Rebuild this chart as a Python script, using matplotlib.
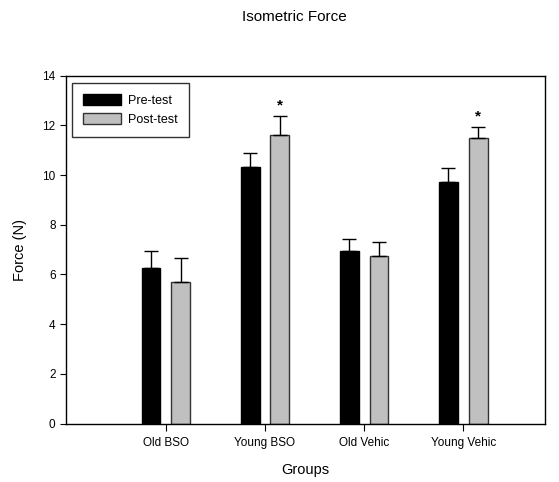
import numpy as np
import matplotlib.pyplot as plt

plt.rcParams['font.family'] = ['Liberation Sans', 'DejaVu Sans']

# values
groups = ['Old BSO', 'Young BSO', 'Old Vehic', 'Young Vehic']
pre_mean = [6.27, 10.31, 6.93, 9.71]
pre_err = [0.69, 0.59, 0.48, 0.56]
post_mean = [5.68, 11.60, 6.76, 11.49]
post_err = [0.97, 0.77, 0.55, 0.43]
significant = [False, True, False, True]

fig = plt.figure(figsize=(5.59, 4.82), dpi=100)
ax = fig.add_axes([66 / 559, 1 - 423.5 / 482, (545 - 66) / 559, (423.5 - 75.7) / 482])

x = np.arange(len(groups))
w = 0.19
off = 0.15
err_kw = dict(ecolor='black', capsize=5, elinewidth=1, capthick=1)

ax.bar(x - off, pre_mean, w, color='black', edgecolor='black', linewidth=1,
       label='Pre-test')
ax.errorbar(x - off, pre_mean, yerr=[np.zeros(4), pre_err], fmt='none', **err_kw)
ax.bar(x + off, post_mean, w, color='#c0c0c0', edgecolor='#333333', linewidth=1,
       label='Post-test')
ax.errorbar(x + off, post_mean, yerr=[np.zeros(4), post_err], fmt='none', **err_kw)

for i, sig in enumerate(significant):
    if sig:
        ax.text(x[i] + off, post_mean[i] + post_err[i] + 0.45, '*', ha='center',
                va='center', fontsize=11, fontweight='bold')

ax.set_xlim(-1.007, 3.825)
ax.set_ylim(0, 14)
ax.set_xticks(x)
ax.set_xticklabels(groups, fontsize=8.5)
ax.set_yticks(range(0, 15, 2))
ax.tick_params(axis='y', labelsize=8.5, length=4, direction='out')
ax.tick_params(axis='x', length=5, direction='out', pad=5)
for s in ax.spines.values():
    s.set_linewidth(1)

ax.set_xlabel('Groups', fontsize=10.5, labelpad=10)
ax.set_ylabel('Force (N)', fontsize=10.5, labelpad=11)
fig.text(294 / 559, 1 - 17 / 482, 'Isometric Force', ha='center', va='center',
         fontsize=11)

leg = ax.legend(loc='upper left', bbox_to_anchor=(0.0125, 0.979), fontsize=9,
                frameon=True, fancybox=False, edgecolor='black',
                handlelength=3.0, handleheight=1.0, borderpad=0.9,
                labelspacing=0.45, borderaxespad=0, handletextpad=0.6)
leg.get_frame().set_linewidth(1)

fig.savefig('out.png', dpi=100)
